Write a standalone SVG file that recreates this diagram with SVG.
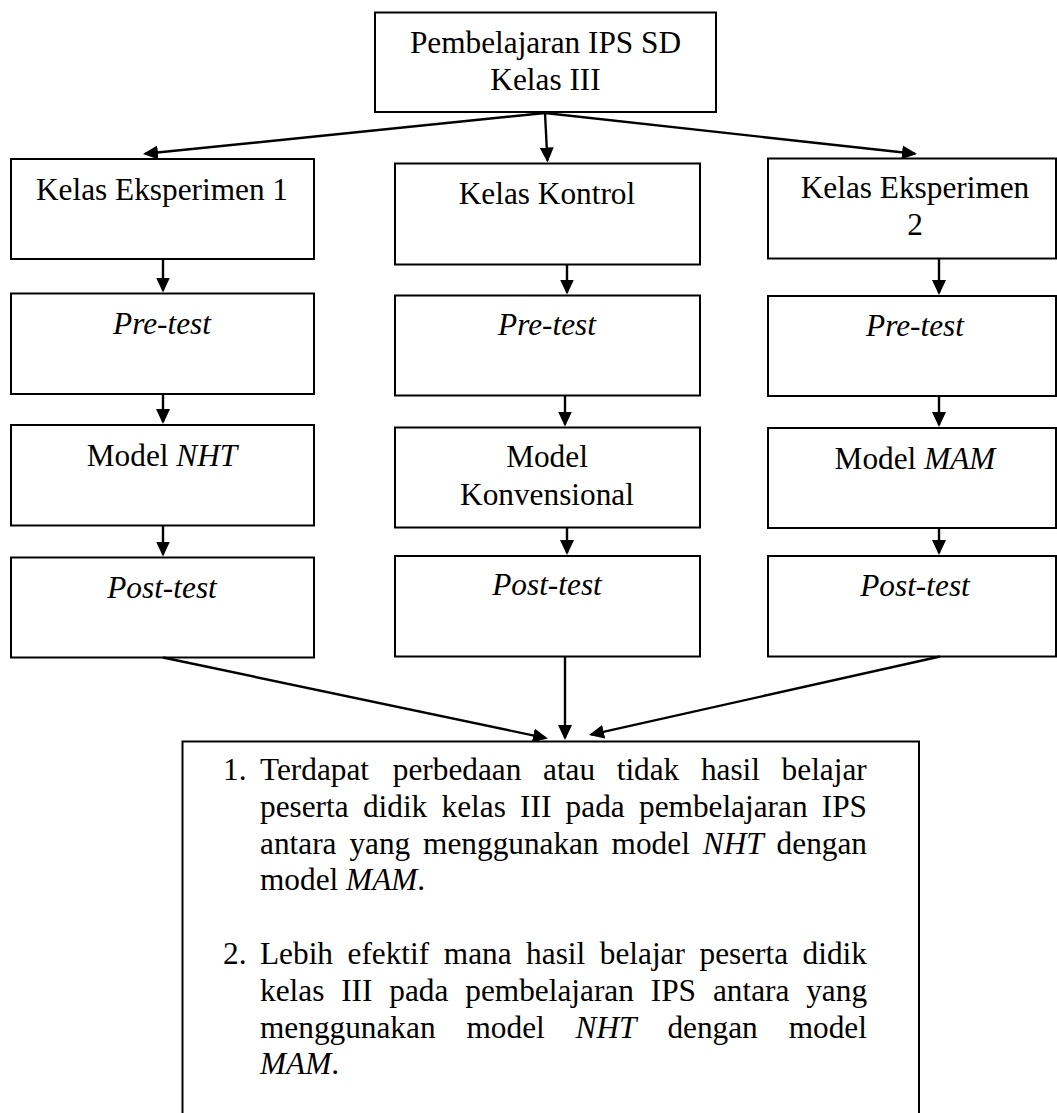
<svg xmlns="http://www.w3.org/2000/svg" width="1057" height="1113" viewBox="0 0 1057 1113">
<style>
.box{fill:#fff;stroke:#000;stroke-width:2}
text{font-family:"Liberation Serif","Times New Roman",serif;font-size:31.3px;fill:#000}
.c{text-anchor:middle}
.it{font-style:italic}
.con{stroke:#000;stroke-width:2.4;fill:none}
</style>
<defs>
<marker id="ah" viewBox="0 0 15 14" refX="13" refY="7" markerWidth="15" markerHeight="14" markerUnits="userSpaceOnUse" orient="auto">
<path d="M0,0 L15,7 L0,14 z" fill="#000"/>
</marker>
</defs>
<rect width="1057" height="1113" fill="#fff"/>

<g id="node-top">
<rect class="box" x="375" y="12.5" width="341" height="99.5"/>
<text class="c" x="545.5" y="52.5">Pembelajaran IPS SD</text>
<text class="c" x="545.5" y="90">Kelas III</text>
</g>

<g id="node-eksp1">
<rect class="box" x="11" y="159" width="303" height="100"/>
<text class="c" x="162" y="200">Kelas Eksperimen 1</text>
</g>
<g id="node-pre1">
<rect class="box" x="11" y="293.5" width="303" height="100.5"/>
<text class="c it" x="162" y="334">Pre-test</text>
</g>
<g id="node-nht">
<rect class="box" x="11" y="425" width="303" height="100.5"/>
<text class="c" x="162" y="466">Model <tspan class="it">NHT</tspan></text>
</g>
<g id="node-post1">
<rect class="box" x="11" y="557.5" width="303" height="100"/>
<text class="c it" x="162" y="598">Post-test</text>
</g>

<g id="node-kontrol">
<rect class="box" x="395" y="163.5" width="305" height="101"/>
<text class="c" x="547" y="203.5">Kelas Kontrol</text>
</g>
<g id="node-pre2">
<rect class="box" x="395" y="295.5" width="305" height="100"/>
<text class="c it" x="547" y="334.5">Pre-test</text>
</g>
<g id="node-konv">
<rect class="box" x="395" y="427.5" width="305" height="100"/>
<text class="c" x="547" y="467">Model</text>
<text class="c" x="547" y="505">Konvensional</text>
</g>
<g id="node-post2">
<rect class="box" x="395" y="556" width="305" height="100.5"/>
<text class="c it" x="547" y="595">Post-test</text>
</g>

<g id="node-eksp2">
<rect class="box" x="768" y="158.5" width="288" height="100"/>
<text class="c" x="915" y="197.5">Kelas Eksperimen</text>
<text class="c" x="915" y="235">2</text>
</g>
<g id="node-pre3">
<rect class="box" x="768" y="296" width="288" height="100"/>
<text class="c it" x="915" y="335.5">Pre-test</text>
</g>
<g id="node-mam">
<rect class="box" x="768" y="428" width="288" height="100"/>
<text class="c" x="915" y="469">Model <tspan class="it">MAM</tspan></text>
</g>
<g id="node-post3">
<rect class="box" x="768" y="556" width="288" height="100.5"/>
<text class="c it" x="915" y="596">Post-test</text>
</g>

<g id="node-result">
<rect class="box" x="182.5" y="741.5" width="736.5" height="420"/>
<text x="223" y="780">1.</text>
<text y="780"><tspan x="260">Terdapat</tspan><tspan x="392.8">perbedaan</tspan><tspan x="543">atau</tspan><tspan x="616.7">tidak</tspan><tspan x="700.9">hasil</tspan><tspan x="781.6">belajar</tspan></text>
<text y="816.8"><tspan x="260">peserta</tspan><tspan x="362.9">didik</tspan><tspan x="441.5">kelas</tspan><tspan x="520.1">III</tspan><tspan x="565.6">pada</tspan><tspan x="639">pembelajaran</tspan><tspan x="821.8">IPS</tspan></text>
<text y="853.6"><tspan x="260">antara</tspan><tspan x="349.4">yang</tspan><tspan x="423.1">menggunakan</tspan><tspan x="611.6">model</tspan><tspan x="702.8" class="it">NHT</tspan><tspan x="776.6">dengan</tspan></text>
<text x="260" y="890.4">model <tspan class="it">MAM</tspan>.</text>
<text x="223" y="964">2.</text>
<text y="964"><tspan x="260">Lebih</tspan><tspan x="347.5">efektif</tspan><tspan x="443.8">mana</tspan><tspan x="526.1">hasil</tspan><tspan x="599.8">belajar</tspan><tspan x="699.5">peserta</tspan><tspan x="802.6">didik</tspan></text>
<text y="1000.8"><tspan x="260">kelas</tspan><tspan x="341.2">III</tspan><tspan x="389.3">pada</tspan><tspan x="465.3">pembelajaran</tspan><tspan x="650.8">IPS</tspan><tspan x="712.9">antara</tspan><tspan x="806.2">yang</tspan></text>
<text y="1037.6"><tspan x="260">menggunakan</tspan><tspan x="466.5">model</tspan><tspan x="575.6" class="it">NHT</tspan><tspan x="667.4">dengan</tspan><tspan x="788.7">model</tspan></text>
<text x="260" y="1074.4"><tspan class="it">MAM</tspan>.</text>
</g>

<g id="connectors" class="con" marker-end="url(#ah)">
<line x1="545" y1="113" x2="145" y2="153.8"/>
<line x1="545" y1="113" x2="547.4" y2="160.5"/>
<line x1="545" y1="113" x2="915" y2="153.8"/>
<line x1="163" y1="259" x2="163" y2="290.5"/>
<line x1="163" y1="394" x2="163" y2="422"/>
<line x1="163" y1="525.5" x2="163" y2="554.5"/>
<line x1="567" y1="264.5" x2="567" y2="292.5"/>
<line x1="565" y1="395.5" x2="565" y2="424.5"/>
<line x1="567" y1="527.5" x2="567" y2="553"/>
<line x1="939" y1="258.5" x2="939" y2="293"/>
<line x1="939" y1="396" x2="939" y2="425"/>
<line x1="939" y1="528" x2="939" y2="553"/>
<line x1="163" y1="657.5" x2="546" y2="738.1"/>
<line x1="565" y1="656.5" x2="565" y2="738"/>
<line x1="940" y1="656.5" x2="591" y2="734.6"/>
</g>
</svg>
